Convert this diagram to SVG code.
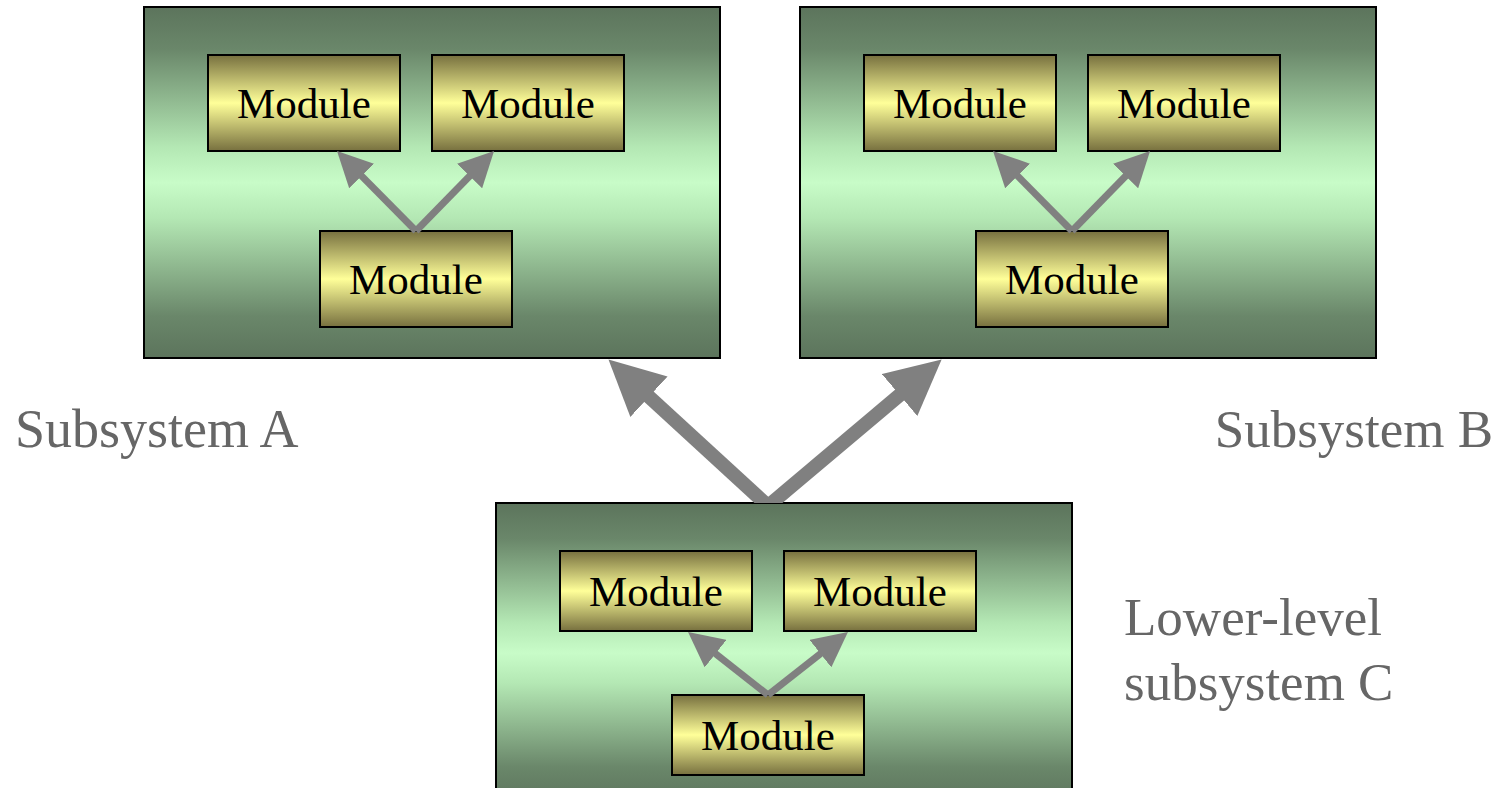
<svg xmlns="http://www.w3.org/2000/svg" width="1496" height="788" viewBox="0 0 1496 788">
  <defs>
    <linearGradient id="gSub" x1="0" y1="0" x2="0" y2="1">
      <stop offset="0" stop-color="#5c745c"/>
      <stop offset="0.12" stop-color="#6a876a"/>
      <stop offset="0.4" stop-color="#b4e8b4"/>
      <stop offset="0.5" stop-color="#c8fcc8"/>
      <stop offset="0.6" stop-color="#b4e8b4"/>
      <stop offset="0.88" stop-color="#6a876a"/>
      <stop offset="1" stop-color="#5c745c"/>
    </linearGradient>
    <linearGradient id="gMod" x1="0" y1="0" x2="0" y2="1">
      <stop offset="0" stop-color="#77703f"/>
      <stop offset="0.5" stop-color="#ffff99"/>
      <stop offset="1" stop-color="#77703f"/>
    </linearGradient>
    <marker id="headSmall" markerUnits="userSpaceOnUse" markerWidth="35" markerHeight="35" refX="4" refY="17.5" orient="auto" viewBox="0 0 35 35">
      <path d="M0,0 L35,17.5 L0,35 Z" fill="#808080"/>
    </marker>
    <marker id="headBig" markerUnits="userSpaceOnUse" markerWidth="55" markerHeight="55" refX="5" refY="27.5" orient="auto" viewBox="0 0 55 55">
      <path d="M0,0 L55,27.5 L0,55 Z" fill="#808080"/>
    </marker>
    <clipPath id="aboveC">
      <rect x="0" y="0" width="1496" height="503"/>
    </clipPath>
  </defs>
  <style>
    .sub { fill: url(#gSub); stroke: #000; stroke-width: 2; }
    .mod { fill: url(#gMod); stroke: #000; stroke-width: 2; }
    .mtxt { font-family: "Liberation Serif", "Times New Roman", serif; font-size: 43px; fill: #000; text-anchor: middle; }
    .lbl { font-family: "Liberation Serif", "Times New Roman", serif; font-size: 54px; fill: #666666; }
    .small { stroke: #808080; stroke-width: 7; fill: none; marker-end: url(#headSmall); }
    .big { stroke: #808080; stroke-width: 14; fill: none; marker-end: url(#headBig); }
  </style>

  <!-- Subsystem A -->
  <g id="subsystemA">
    <rect class="sub" x="144" y="7" width="576" height="351"/>
    <g id="moduleA1">
      <rect class="mod" x="208" y="55" width="192" height="96"/>
      <text class="mtxt" x="304" y="118">Module</text>
    </g>
    <g id="moduleA2">
      <rect class="mod" x="432" y="55" width="192" height="96"/>
      <text class="mtxt" x="528" y="118">Module</text>
    </g>
    <g id="moduleA3">
      <rect class="mod" x="320" y="231" width="192" height="96"/>
      <text class="mtxt" x="416" y="294">Module</text>
    </g>
  </g>

  <!-- Subsystem B -->
  <g id="subsystemB">
    <rect class="sub" x="800" y="7" width="576" height="351"/>
    <g id="moduleB1">
      <rect class="mod" x="864" y="55" width="192" height="96"/>
      <text class="mtxt" x="960" y="118">Module</text>
    </g>
    <g id="moduleB2">
      <rect class="mod" x="1088" y="55" width="192" height="96"/>
      <text class="mtxt" x="1184" y="118">Module</text>
    </g>
    <g id="moduleB3">
      <rect class="mod" x="976" y="231" width="192" height="96"/>
      <text class="mtxt" x="1072" y="294">Module</text>
    </g>
  </g>

  <!-- Subsystem C (runs off the bottom edge) -->
  <g id="subsystemC">
    <rect class="sub" x="496" y="503" width="576" height="300"/>
    <g id="moduleC1">
      <rect class="mod" x="560" y="551" width="192" height="80"/>
      <text class="mtxt" x="656" y="606">Module</text>
    </g>
    <g id="moduleC2">
      <rect class="mod" x="784" y="551" width="192" height="80"/>
      <text class="mtxt" x="880" y="606">Module</text>
    </g>
    <g id="moduleC3">
      <rect class="mod" x="672" y="695" width="192" height="80"/>
      <text class="mtxt" x="768" y="750">Module</text>
    </g>
  </g>

  <!-- Labels -->
  <g id="labels">
    <text class="lbl" x="15" y="447">Subsystem A</text>
    <text class="lbl" x="1493" y="447" text-anchor="end" style="font-size:53px">Subsystem B</text>
    <text class="lbl" x="1124" y="635" style="font-size:53px">Lower-level</text>
    <text class="lbl" x="1124" y="700" style="font-size:53px">subsystem C</text>
  </g>

  <!-- Connectors -->
  <g id="connectors">
    <line class="small" x1="416" y1="231" x2="358.8" y2="173.1"/>
    <line class="small" x1="416" y1="231" x2="472.4" y2="173.2"/>
    <line class="small" x1="1072" y1="231" x2="1014.8" y2="173.1"/>
    <line class="small" x1="1072" y1="231" x2="1128.4" y2="173.2"/>
    <line class="small" x1="768" y1="695" x2="712.4" y2="651.2"/>
    <line class="small" x1="768" y1="695" x2="823.6" y2="651.2"/>
    <g clip-path="url(#aboveC)">
      <line class="big" x1="768" y1="506" x2="645.3" y2="393.3"/>
      <line class="big" x1="768" y1="506" x2="903.4" y2="391.8"/>
    </g>
  </g>
</svg>
